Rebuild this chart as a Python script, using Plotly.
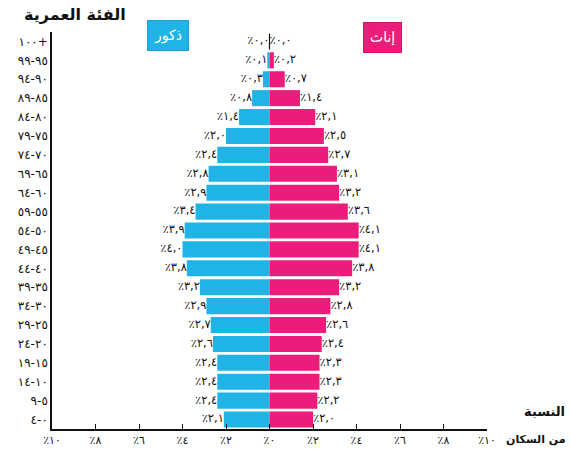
import plotly.graph_objects as go

age_groups = ["٠-٤", "٥-٩", "١٠-١٤", "١٥-١٩", "٢٠-٢٤", "٢٥-٢٩", "٣٠-٣٤", "٣٥-٣٩",
              "٤٠-٤٤", "٤٥-٤٩", "٥٠-٥٤", "٥٥-٥٩", "٦٠-٦٤", "٦٥-٦٩", "٧٠-٧٤",
              "٧٥-٧٩", "٨٠-٨٤", "٨٥-٨٩", "٩٠-٩٤", "٩٥-٩٩", "١٠٠+"]
males = [2.1, 2.4, 2.4, 2.4, 2.6, 2.7, 2.9, 3.2, 3.8, 4.0, 3.9,
         3.4, 2.9, 2.8, 2.4, 2.0, 1.4, 0.8, 0.3, 0.1, 0.0]
females = [2.0, 2.2, 2.3, 2.3, 2.4, 2.6, 2.8, 3.2, 3.8, 4.1, 4.1,
           3.6, 3.2, 3.1, 2.7, 2.5, 2.1, 1.4, 0.7, 0.2, 0.0]
tick_vals = [-10, -8, -6, -4, -2, 0, 2, 4, 6, 8, 10]

AR = str.maketrans("0123456789.", "٠١٢٣٤٥٦٧٨٩,")


def ar(v, fmt="{:.1f}"):
    return "٪" + fmt.format(v).translate(AR)


BLUE = "#1fb3e6"
PINK = "#ec1c7a"
FONT = "DejaVu Sans"

# zero-length bars get a thin outline so the centre divider shows
zero_line = [1.2 if v == 0 else 0 for v in males]

fig = go.Figure()
fig.add_trace(go.Bar(y=age_groups, x=[-v for v in males], orientation="h",
                     marker=dict(color=BLUE, line=dict(color="#111", width=zero_line)),
                     name="ذكور"))
fig.add_trace(go.Bar(y=age_groups, x=females, orientation="h",
                     marker=dict(color=PINK, line=dict(width=0)), name="إناث"))

# value labels
fig.add_trace(go.Scatter(y=age_groups, x=[-v for v in males], mode="text",
                         text=[ar(v) for v in males], textposition="middle left",
                         textfont=dict(size=11.5, color="#111"), cliponaxis=False))
fig.add_trace(go.Scatter(y=age_groups, x=females, mode="text",
                         text=[ar(v) for v in females], textposition="middle right",
                         textfont=dict(size=11.5, color="#111"), cliponaxis=False))

fig.update_layout(
    width=570, height=459, barmode="overlay", bargap=0.15,
    showlegend=False, plot_bgcolor="white", paper_bgcolor="white",
    font=dict(family=FONT, size=11, color="#111"),
    margin=dict(l=52, r=83, t=32, b=27),
)
fig.update_xaxes(range=[-10, 10], tickvals=tick_vals,
                 ticktext=[ar(abs(v), "{:d}") for v in tick_vals],
                 showgrid=False, zeroline=False, showline=True,
                 linecolor="#111", linewidth=1.5, ticks="inside", ticklen=5,
                 tickcolor="#111", tickfont=dict(size=11))
fig.update_yaxes(range=[-0.5, 20.5], showgrid=False, showline=True,
                 linecolor="#111", linewidth=1.5, ticks="",
                 tickfont=dict(size=12, color="#111"))

ann = dict(xref="paper", yref="paper", showarrow=False,
           xanchor="center", yanchor="middle")
fig.add_annotation(x=0.267, y=0.99, text="ذكور", bgcolor=BLUE,
                   bordercolor="#1a9fd0", borderpad=6,
                   font=dict(color="white", size=14), **ann)
fig.add_annotation(x=0.759, y=0.985, text="إناث", bgcolor=PINK,
                   bordercolor="#d0156a", borderpad=6,
                   font=dict(color="white", size=14), **ann)
fig.add_annotation(x=0.053, y=1.045, text="<b>الفئة العمرية</b>",
                   font=dict(size=16), **ann)
fig.add_annotation(x=1.133, y=0.045, text="<b>النسبة</b>",
                   font=dict(size=13), **ann)
fig.add_annotation(x=1.112, y=-0.0275, text="<b>من السكان</b>",
                   font=dict(size=11), **ann)

fig.write_html("out.html", config={"displayModeBar": False},
               post_script="document.body.style.margin='0';")
